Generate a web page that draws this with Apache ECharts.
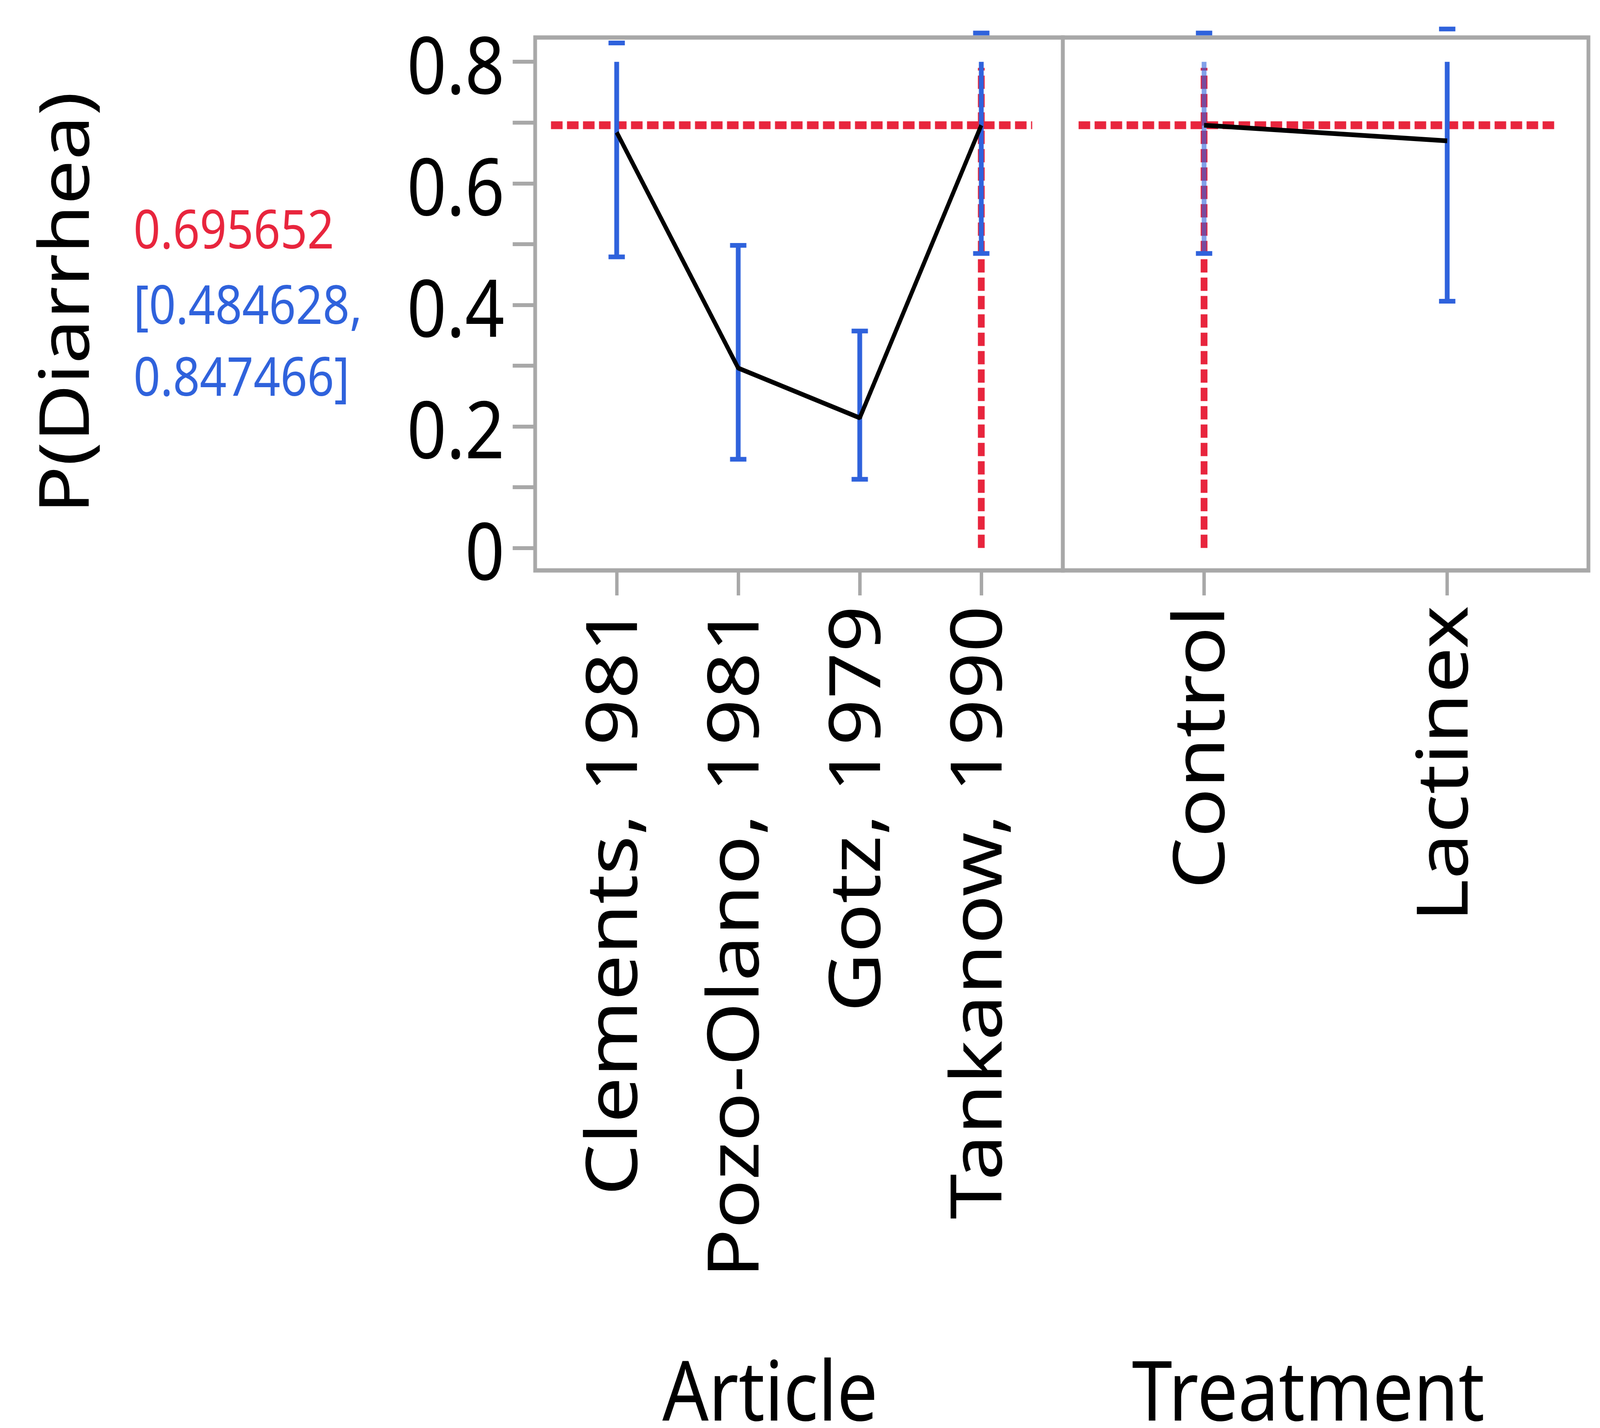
<!DOCTYPE html>
<html>
<head>
<meta charset="utf-8">
<title>P(Diarrhea) profiler</title>
<script src="https://cdn.jsdelivr.net/npm/echarts@6.0.0/dist/echarts.min.js"></script>
<style>
  html, body { margin: 0; padding: 0; background: #fff; overflow: hidden; }
  #main { width: 4700px; height: 3655px; transform-origin: 0 0; }
</style>
</head>
<body>
<div id="main"></div>
<script>
var articleNames = ['Clements, 1981', 'Pozo-Olano, 1981', 'Gotz, 1979', 'Tankanow, 1990'];
var articleProb = [0.684, 0.296, 0.214, 0.695652];
var articleLower = [0.479, 0.146, 0.113, 0.484628];
var articleUpper = [0.831, 0.498, 0.357, 0.847466];

var treatmentNames = ['Control', 'Lactinex'];
var treatmentProb = [0.695652, 0.670];
var treatmentLower = [0.484628, 0.406];
var treatmentUpper = [0.847466, 0.854];

var currentValue = 0.695652;
var currentCI = [0.484628, 0.847466];
var currentArticle = 3;   // Tankanow, 1990
var currentTreatment = 0; // Control

var yLabelValues = [0, 0.2, 0.4, 0.6, 0.8];
var yTickValues = [0, 0.1, 0.2, 0.3, 0.4, 0.5, 0.6, 0.7, 0.8];

(function () {
    var el = document.getElementById('main');
    // the chart is laid out for 4700 x 3655; stretch it onto the real window
    function fitWindow() {
        var sx = window.innerWidth / 4700, sy = window.innerHeight / 3655;
        el.style.transform = 'scale(' + sx + ',' + sy + ')';
    }
    fitWindow();

    var myChart = echarts.init(el);

    var FONT = "'Noto Sans', 'DejaVu Sans', sans-serif";
    var RED = '#e8253d';
    var BLUE = '#2f62dc';
    var GRAY = '#a8a8a8';
    var yMin = -0.037, yMax = 0.84;
    var barTop = 0.8;   // bar body stops at the top tick, caps sit at their real value
    var artRange = [-0.671, 3.671];
    var trtRange = [-0.581, 1.581];

    function pairs(vals) {
        return vals.map(function (v, i) { return [i, v]; });
    }
    function bars(lo, hi) {
        return lo.map(function (v, i) { return [i, v, hi[i]]; });
    }
    // horizontal reference line covers most of the panel
    function hSpan(range) {
        var w = range[1] - range[0];
        return [[range[0] + w * 0.03, currentValue], [range[1] - w * 0.058, currentValue]];
    }

    // fadeIdx: the bar that sits under the red crosshair in the right panel
    function barRenderer(fadeIdx) {
        return function (params, api) {
            var x = api.value(0), lo = api.value(1), hi = api.value(2);
            var pLo = api.coord([x, lo]);
            var pHi = api.coord([x, hi]);
            var pTop = api.coord([x, Math.min(hi, barTop)]);
            var half = 24;
            var cap = { stroke: BLUE, lineWidth: 12 };
            return {
                type: 'group',
                children: [
                    { type: 'line', shape: { x1: pLo[0], y1: pLo[1], x2: pTop[0], y2: pTop[1] },
                      style: { stroke: BLUE, lineWidth: 14, opacity: params.dataIndex === fadeIdx ? 0.6 : 1 } },
                    { type: 'line', shape: { x1: pLo[0] - half, y1: pLo[1], x2: pLo[0] + half, y2: pLo[1] }, style: cap },
                    { type: 'line', shape: { x1: pHi[0] - half, y1: pHi[1], x2: pHi[0] + half, y2: pHi[1] }, style: cap }
                ]
            };
        };
    }

    var dashStyle = { color: RED, width: 20, type: [34, 13], cap: 'butt' };

    function xAxisFor(grid, range, names) {
        var idx = names.map(function (n, i) { return i; });
        return {
            type: 'value',
            gridIndex: grid,
            min: range[0],
            max: range[1],
            axisLine: { show: false, onZero: false },
            splitLine: { show: false },
            axisTick: { show: true, customValues: idx, length: 64, lineStyle: { color: GRAY, width: 10 } },
            axisLabel: {
                customValues: idx,
                rotate: 90,
                margin: 90,
                fontSize: 209,
                fontFamily: FONT,
                color: '#000',
                formatter: function (v) { return names[Math.round(v)]; }
            }
        };
    }

    var option = {
        backgroundColor: '#fff',
        animation: false,
        grid: [
            { left: 1572, top: 96, width: 1550, height: 1364, show: true, borderColor: GRAY, borderWidth: 11, backgroundColor: 'transparent' },
            { left: 3122, top: 96, width: 1544, height: 1364, show: true, borderColor: GRAY, borderWidth: 11, backgroundColor: 'transparent' }
        ],
        xAxis: [
            xAxisFor(0, artRange, articleNames),
            xAxisFor(1, trtRange, treatmentNames)
        ],
        yAxis: [
            {
                type: 'value',
                gridIndex: 0,
                min: yMin,
                max: yMax,
                axisLine: { show: false, onZero: false },
                splitLine: { show: false },
                axisTick: { show: true, customValues: yTickValues, length: 66, lineStyle: { color: GRAY, width: 10 } },
                axisLabel: {
                    customValues: yLabelValues,
                    margin: 90,
                    fontSize: 203,
                    fontFamily: FONT,
                    color: '#000',
                    verticalAlign: 'top',
                    lineHeight: 48
                }
            },
            { type: 'value', gridIndex: 1, min: yMin, max: yMax, show: false, axisLine: { onZero: false }, splitLine: { show: false } }
        ],
        series: [
            // Article panel
            {
                type: 'line', xAxisIndex: 0, yAxisIndex: 0, z: 2, silent: true,
                symbol: 'none', lineStyle: dashStyle,
                data: hSpan(artRange)
            },
            {
                type: 'line', xAxisIndex: 0, yAxisIndex: 0, z: 2, silent: true,
                symbol: 'none', lineStyle: dashStyle,
                data: [[currentArticle, 0], [currentArticle, 0.79]]
            },
            {
                type: 'custom', xAxisIndex: 0, yAxisIndex: 0, z: 3, clip: false,
                renderItem: barRenderer(-1),
                data: bars(articleLower, articleUpper)
            },
            {
                type: 'line', xAxisIndex: 0, yAxisIndex: 0, z: 4,
                symbol: 'none', lineStyle: { color: '#000', width: 12 },
                data: pairs(articleProb)
            },
            // Treatment panel
            {
                type: 'line', xAxisIndex: 1, yAxisIndex: 1, z: 2, silent: true,
                symbol: 'none', lineStyle: dashStyle,
                data: hSpan(trtRange)
            },
            {
                type: 'line', xAxisIndex: 1, yAxisIndex: 1, z: 2, silent: true,
                symbol: 'none', lineStyle: dashStyle,
                data: [[currentTreatment, 0], [currentTreatment, 0.79]]
            },
            {
                type: 'custom', xAxisIndex: 1, yAxisIndex: 1, z: 3, clip: false,
                renderItem: barRenderer(currentTreatment),
                data: bars(treatmentLower, treatmentUpper)
            },
            {
                type: 'line', xAxisIndex: 1, yAxisIndex: 1, z: 4,
                symbol: 'none', lineStyle: { color: '#000', width: 12 },
                data: pairs(treatmentProb)
            }
        ],
        graphic: [
            {
                type: 'text', x: 203, y: 775, rotation: Math.PI / 2,
                style: { text: 'P(Diarrhea)', fontSize: 203, fontFamily: FONT, fill: '#000', align: 'center', verticalAlign: 'middle' }
            },
            {
                type: 'text', x: 392, y: 597,
                style: { text: currentValue.toFixed(6), fontSize: 138, fontFamily: FONT, fill: RED, align: 'left', verticalAlign: 'middle' }
            },
            {
                type: 'text', x: 392, y: 790,
                style: { text: '[' + currentCI[0].toFixed(6) + ',', fontSize: 138, fontFamily: FONT, fill: BLUE, align: 'left', verticalAlign: 'middle' }
            },
            {
                type: 'text', x: 392, y: 974,
                style: { text: currentCI[1].toFixed(6) + ']', fontSize: 138, fontFamily: FONT, fill: BLUE, align: 'left', verticalAlign: 'middle' }
            },
            {
                type: 'text', x: 2262, y: 3575,
                style: { text: 'Article', fontSize: 213, fontFamily: FONT, fill: '#000', align: 'center', verticalAlign: 'middle' }
            },
            {
                type: 'text', x: 3843, y: 3575,
                style: { text: 'Treatment', fontSize: 213, fontFamily: FONT, fill: '#000', align: 'center', verticalAlign: 'middle' }
            }
        ]
    };

    myChart.setOption(option);
    window.addEventListener('resize', function () {
        fitWindow();
        myChart.resize();
    });
})();
</script>
</body>
</html>
